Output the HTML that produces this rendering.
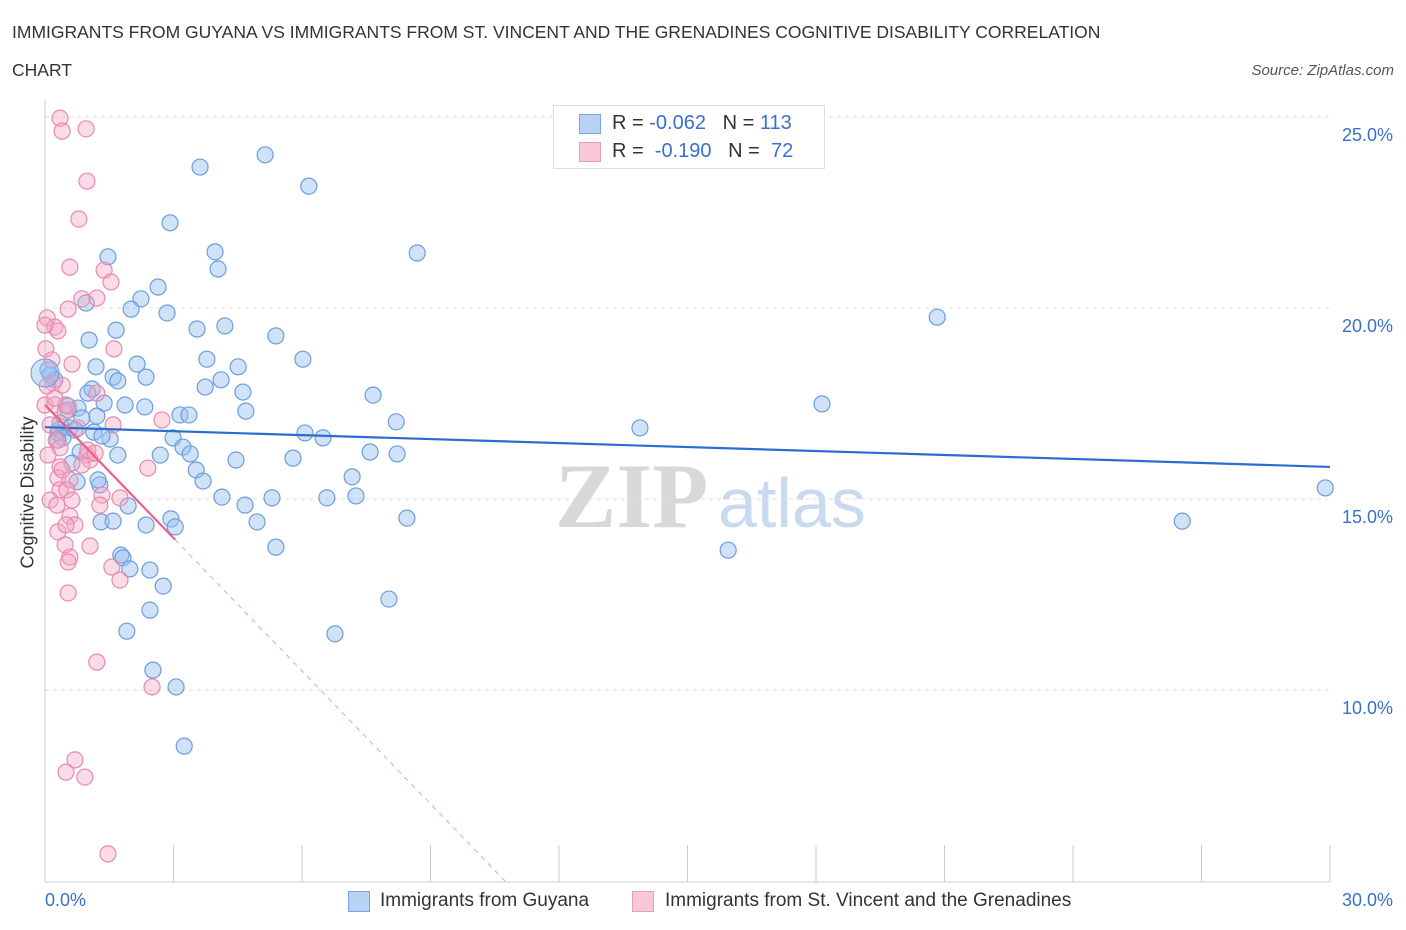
<!DOCTYPE html>
<html><head><meta charset="utf-8"><style>
body{margin:0;background:#fff;font-family:"Liberation Sans",sans-serif;}
#w{position:relative;width:1406px;height:930px;overflow:hidden;}
.t{position:absolute;color:#333;font-size:17.5px;}
</style></head><body><div id="w">
<div class="t" style="left:12px;top:22px;">IMMIGRANTS FROM GUYANA VS IMMIGRANTS FROM ST. VINCENT AND THE GRENADINES COGNITIVE DISABILITY CORRELATION</div>
<div class="t" style="left:12px;top:60px;">CHART</div>
<div class="t" style="right:12px;top:62px;font-size:15px;font-style:italic;color:#555;">Source: ZipAtlas.com</div>
<svg id="s" width="1406" height="930" style="position:absolute;left:0;top:0"></svg>
</div>
<script>
const blueX=[3.62,5.14,6.16,2.92,1.47,3.97,4.04,8.69,2.64,2.24,2.01,2.85,0.96,1.66,1.03,3.55,4.20,5.39,20.83,3.78,6.02,2.15,1.19,4.51,1.59,2.36,4.11,1.70,3.74,4.62,1.10,7.66,1.87,2.33,4.69,18.14,0.77,0.54,1.38,3.15,3.36,1.21,0.86,0.35,8.20,13.89,0.58,0.30,6.07,6.49,2.99,1.52,3.22,3.39,7.59,8.22,5.79,4.46,1.70,3.53,3.69,0.75,1.28,7.17,29.89,4.13,5.30,6.58,7.26,4.67,1.94,2.94,4.95,3.04,1.31,1.59,2.36,8.45,26.55,5.39,15.95,1.77,1.82,1.98,2.45,2.76,8.03,2.45,1.91,6.77,2.52,3.06,3.25,0.33,0.42,0.70,0.12,0.23,0.07,0.49,1.00,0.82,0.63,1.24,2.69,0.30,1.14,1.33];
const blueY=[23.69,24.01,23.19,22.23,21.34,21.47,21.02,21.44,20.55,20.24,19.97,19.87,20.13,19.42,19.16,19.45,19.53,19.27,19.76,18.66,18.66,18.53,18.46,18.46,18.19,18.19,18.12,18.09,17.93,17.80,17.88,17.72,17.46,17.41,17.30,17.49,17.38,17.33,17.51,17.20,17.20,17.17,17.12,16.99,17.02,16.86,16.86,16.73,16.73,16.60,16.60,16.57,16.36,16.18,16.23,16.18,16.07,16.02,16.15,15.76,15.47,15.45,15.37,15.58,15.29,15.05,15.03,15.03,15.08,14.84,14.82,14.48,14.40,14.27,14.40,14.42,14.32,14.50,14.42,13.74,13.66,13.53,13.46,13.17,13.14,12.72,12.38,12.09,11.54,11.47,10.52,10.08,8.53,16.81,16.60,16.81,18.25,18.12,18.38,17.46,17.77,16.23,15.94,15.50,16.15,16.54,16.75,16.65];
const pinkX=[0.35,0.40,0.96,0.98,0.79,0.58,1.38,1.54,1.21,0.86,0.54,0.05,0.23,0.30,0.02,1.61,0.63,0.19,0.40,0.05,1.21,0,0.23,0.47,0.54,1.59,2.73,0.12,0.26,0.35,0.07,0.98,1.05,0.86,2.40,0.35,0.30,0.58,0.35,0.51,1.33,1.75,0.12,0.28,0.63,0.58,1.28,0.70,0.30,0.47,1.05,0.58,0.54,1.56,1.75,0.54,1.21,2.50,0.70,0.49,0.93,1.47,0,0.16,0.77,1.00,0.49,0.40,0.23,1.17];
const pinkY=[24.97,24.63,24.69,23.32,22.33,21.07,20.99,20.68,20.26,20.24,19.97,19.74,19.50,19.40,18.93,18.93,18.53,18.04,17.98,17.96,17.77,17.46,17.46,17.28,17.43,16.94,17.07,16.94,16.54,16.34,16.15,16.15,16.02,15.89,15.81,15.84,15.55,15.50,15.24,15.24,15.10,15.03,14.97,14.84,14.97,14.55,14.84,14.32,14.14,13.80,13.77,13.48,13.35,13.22,12.88,12.54,10.73,10.08,8.17,7.85,7.72,5.71,19.55,18.64,16.86,16.28,14.32,15.76,17.64,16.20];
const yTicks=[10,15,20,25];
const yTickLabels=["10.0%","15.0%","20.0%","25.0%"];
const blueTrend=[16.88,15.84];
const pinkTrend=[17.46,-1.16];
const X0=45,X1=1330,Ytop=117;
const sx=v=>X0+(v/30)*(X1-X0);
const sy=v=>Ytop+(25-v)*38.2;
const NS="http://www.w3.org/2000/svg",svg=document.getElementById('s');
function mk(t,a,p){const e=document.createElementNS(NS,t);for(const k in a)e.setAttribute(k,a[k]);(p||svg).appendChild(e);return e;}
// watermark
let wm=mk('text',{x:555,y:527,'font-size':92,'font-family':'Liberation Serif',fill:'#d8d8d8','font-weight':'bold'});wm.textContent='ZIP';

let wm2=mk('text',{x:718,y:527,'font-size':70,'font-family':'Liberation Sans',fill:'#c9daf0'});wm2.textContent='atlas';

yTicks.forEach((v,i)=>{
 const g=mk('line',{x1:X0,x2:1330,y1:sy(v),y2:sy(v),stroke:'#ddd','stroke-dasharray':'4,4'});
 
 const t=mk('text',{x:1393,y:sy(v)+24,'text-anchor':'end','font-size':18,fill:'#3a70cc'});t.textContent=yTickLabels[i];
 
});
let ax=mk('line',{x1:X0,x2:X1,y1:882,y2:882,stroke:'#ccc'});
let ay=mk('line',{x1:X0,x2:X0,y1:100,y2:882,stroke:'#ccc'});
for(let i=0;i<=10;i++){const l=mk('line',{x1:sx(i*3),x2:sx(i*3),y1:845,y2:882,stroke:'#ccc'});}
blueX.forEach((v,i)=>{const c=mk('circle',{cx:sx(v),cy:sy(blueY[i]),r:8,fill:'rgba(150,190,240,0.45)',stroke:'#6c9ddb','stroke-width':1.2});
 });
pinkX.forEach((v,i)=>{const c=mk('circle',{cx:sx(v),cy:sy(pinkY[i]),r:8,fill:'rgba(245,165,195,0.4)',stroke:'#e88aab','stroke-width':1.2});
 });
let big=mk('circle',{cx:sx(0),cy:sy(18.3),r:14,fill:'rgba(150,190,240,0.45)',stroke:'#6c9ddb'});
let bl=mk('line',{x1:sx(0),y1:sy(blueTrend[0]),x2:sx(30),y2:sy(blueTrend[1]),stroke:'#2a6dd0','stroke-width':2.2});

const pe=(5-pinkTrend[0])/pinkTrend[1];
let pd=mk('line',{x1:sx(3.04),y1:sy(pinkTrend[0]+pinkTrend[1]*3.04),x2:sx(pe),y2:sy(5),stroke:'#e8a0b8','stroke-width':1,'stroke-dasharray':'5,5'});

let pl=mk('line',{x1:sx(0),y1:sy(pinkTrend[0]),x2:sx(3.04),y2:sy(pinkTrend[0]+pinkTrend[1]*3.04),stroke:'#e8608f','stroke-width':2.2});

</script>
<div style="position:absolute;left:553px;top:105px;width:270px;height:62px;border:1px solid #ddd;background:#fff;font-size:20px;color:#333;">
 <div style="position:absolute;left:25px;top:8px;width:20px;height:18px;background:#b9d3f5;border:1px solid #7aa6e0;"></div>
 <div style="position:absolute;left:58px;top:6px;">R = <span style="color:#3a6fd0">-0.062</span>&nbsp;&nbsp;&nbsp;N = <span style="color:#3a6fd0">113</span></div>
 <div style="position:absolute;left:25px;top:36px;width:20px;height:18px;background:#f8c8d8;border:1px solid #e8a0b8;"></div>
 <div style="position:absolute;left:58px;top:34px;">R = &nbsp;<span style="color:#3a6fd0">-0.190</span>&nbsp;&nbsp;&nbsp;N = &nbsp;<span style="color:#3a6fd0">72</span></div>
</div>
<div style="position:absolute;left:45px;top:890px;font-size:18px;color:#3a70cc;">0.0%</div>
<div style="position:absolute;right:13px;top:890px;font-size:18px;color:#3a70cc;">30.0%</div>
<div style="position:absolute;left:-52px;top:482px;width:160px;text-align:center;transform:rotate(-90deg);font-size:18px;color:#333;">Cognitive Disability</div>
<div style="position:absolute;left:348px;top:891px;width:20px;height:19px;background:#b9d3f5;border:1px solid #7aa6e0;"></div>
<div style="position:absolute;left:380px;top:890px;font-size:19px;color:#333;">Immigrants from Guyana</div>
<div style="position:absolute;left:632px;top:891px;width:20px;height:19px;background:#f8c8d8;border:1px solid #e8a0b8;"></div>
<div style="position:absolute;left:665px;top:890px;font-size:19px;color:#333;">Immigrants from St. Vincent and the Grenadines</div>
</body></html>
